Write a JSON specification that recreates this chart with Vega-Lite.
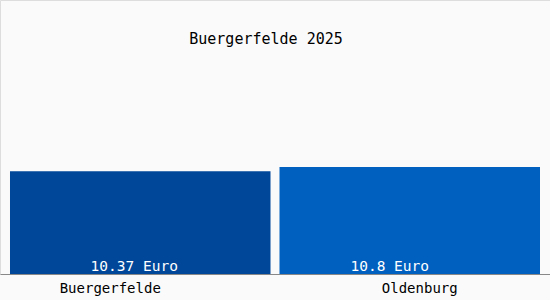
{
  "$schema": "https://vega.github.io/schema/vega-lite/v6.json",
  "width": 550,
  "height": 274,
  "autosize": {"type": "none"},
  "padding": {"left": 0, "top": 0, "right": 0, "bottom": 26},
  "background": "#fafafa",
  "view": {"stroke": "#dddddd", "strokeWidth": 1},
  "title": {
    "text": "Buergerfelde 2025",
    "font": "DejaVu Sans Mono",
    "fontSize": 15,
    "fontWeight": "normal",
    "color": "#000000",
    "anchor": "middle",
    "baseline": "alphabetic",
    "offset": -59,
    "dx": -9
  },
  "data": {
    "values": [
      {"ort": "Buergerfelde", "wert": 10.37, "label": "10.37 Euro"},
      {"ort": "Oldenburg", "wert": 10.8, "label": "10.8 Euro"}
    ]
  },
  "encoding": {
    "x": {
      "field": "ort",
      "type": "nominal",
      "sort": null,
      "scale": {"paddingInner": 0.0334, "paddingOuter": 0.0371},
      "axis": {
        "title": null,
        "ticks": false,
        "domain": true,
        "domainColor": "#888888",
        "domainWidth": 1,
        "labelAngle": 0,
        "labelFont": "DejaVu Sans Mono",
        "labelFontSize": 14,
        "labelColor": "#000000",
        "labelPadding": 7,
        "labelOffset": {"expr": "datum.value === 'Buergerfelde' ? -30 : 10"}
      }
    }
  },
  "layer": [
    {
      "mark": {"type": "bar", "cornerRadius": 0},
      "encoding": {
        "y": {
          "field": "wert",
          "type": "quantitative",
          "scale": {"domain": [0, 27.66], "nice": false},
          "axis": null
        },
        "color": {
          "field": "ort",
          "type": "nominal",
          "scale": {"domain": ["Buergerfelde", "Oldenburg"], "range": ["#00479a", "#0060c0"]},
          "legend": null
        }
      }
    },
    {
      "mark": {
        "type": "text",
        "font": "DejaVu Sans Mono",
        "fontSize": 14.5,
        "color": "#ffffff",
        "baseline": "alphabetic",
        "align": "center",
        "dy": -3,
        "dx": {"expr": "datum.ort === 'Buergerfelde' ? -6 : -20"}
      },
      "encoding": {
        "y": {"datum": 0, "type": "quantitative"},
        "text": {"field": "label"}
      }
    }
  ]
}
